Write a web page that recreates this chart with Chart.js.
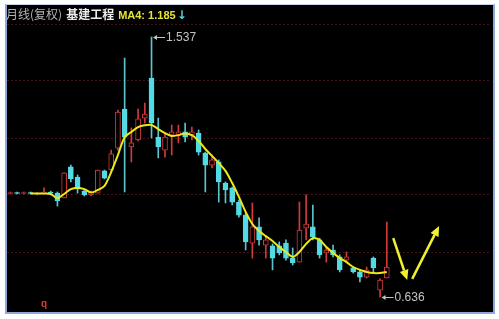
<!DOCTYPE html>
<html>
<head>
<meta charset="utf-8">
<script src="https://cdn.jsdelivr.net/npm/chart.js@4.4.1/dist/chart.umd.min.js"></script>
<style>
    html, body { margin: 0; padding: 0; background: #fff; width: 499px; height: 319px; overflow: hidden; }
    #frame { position: absolute; left: 5px; top: 4px; width: 486px; height: 307px; background: #000;
             border: 2px solid #8ea8da; border-top: 1px solid #c8d4ec; }
    #wrap { position: absolute; left: 0; top: 0; width: 499px; height: 319px; }
    #title { position: absolute; left: 6px; top: 6px; font: 12px "Noto Sans CJK SC", sans-serif;
             line-height: 16px; white-space: nowrap; }
    #title .period { color: #b4b4b4; }
    #title .name { color: #ececec; font-weight: bold; margin-left: 4px; }
    #title .ma { color: #e4e43c; font: bold 11px "Liberation Sans", Arial, sans-serif; margin-left: 4px; }
    #title .dir { color: #4fd8e4; font: bold 12px "DejaVu Sans", sans-serif; margin-left: 1px; }
    #corner { position: absolute; left: 41px; top: 298px; color: #e03838; font: bold 10px "Liberation Sans", Arial, sans-serif; }
</style>
</head>
<body>
<div id="frame"></div>
<div id="wrap"><canvas id="kline" width="499" height="319"></canvas></div>
<div id="title"><span class="period">月线(复权)</span><span class="name">基建工程</span><span class="ma">MA4: 1.185</span><span class="dir">↓</span></div>
<div id="corner">q</div>

<script>
// monthly slots (only the first 57 carry candles, the rest is free space for the arrows)
const months = Array.from({ length: 72 }, (_, i) => String(i + 1));

const opens = [
    0.995, 0.998, 0.995, 0.998, 0.993, 0.995, 1.000, 0.996, 0.979, 1.087,
    1.052, 1.003, 0.990, 0.996, 1.073, 1.076, 1.152, 1.287, 1.156, 1.180,
    1.256, 1.395, 1.190, 1.145, 1.197, 1.197, 1.208, 1.197, 1.204, 1.135,
    1.093, 1.104, 1.031, 1.014, 0.965, 0.920, 0.823, 0.879, 0.816, 0.813,
    0.813, 0.823, 0.771, 0.757, 0.875, 0.879, 0.834, 0.789, 0.799, 0.775,
    0.764, 0.737, 0.723, 0.705, 0.771, 0.660, 0.702
];
const closes = [
    0.998, 0.995, 0.998, 0.995, 0.996, 1.000, 0.996, 0.969, 1.066, 1.045,
    1.014, 0.990, 1.000, 1.076, 1.048, 1.132, 1.277, 1.190, 1.170, 1.253,
    1.270, 1.239, 1.156, 1.190, 1.208, 1.208, 1.190, 1.208, 1.138, 1.093,
    1.111, 1.035, 1.007, 0.965, 0.920, 0.827, 0.879, 0.834, 0.834, 0.771,
    0.789, 0.771, 0.754, 0.868, 0.889, 0.844, 0.782, 0.799, 0.782, 0.730,
    0.775, 0.723, 0.705, 0.730, 0.737, 0.695, 0.740
];
const highs = [
    1.000, 1.000, 1.000, 1.000, 0.998, 1.014, 1.003, 1.000, 1.066, 1.093,
    1.059, 1.007, 1.003, 1.076, 1.076, 1.145, 1.284, 1.464, 1.222, 1.287,
    1.308, 1.537, 1.256, 1.204, 1.232, 1.232, 1.239, 1.225, 1.215, 1.138,
    1.128, 1.111, 1.035, 1.017, 0.972, 0.927, 0.962, 0.910, 0.844, 0.820,
    0.827, 0.834, 0.806, 0.965, 0.990, 0.955, 0.840, 0.809, 0.816, 0.782,
    0.792, 0.740, 0.730, 0.740, 0.775, 0.699, 0.896
];
const lows = [
    0.993, 0.993, 0.993, 0.993, 0.990, 0.993, 0.990, 0.951, 0.979, 1.035,
    0.996, 0.986, 0.986, 0.996, 1.045, 1.069, 1.145, 1.000, 1.104, 1.177,
    1.239, 1.187, 1.118, 1.121, 1.128, 1.170, 1.173, 1.180, 1.128, 1.000,
    1.083, 0.965, 0.962, 0.955, 0.913, 0.799, 0.771, 0.816, 0.771, 0.730,
    0.782, 0.764, 0.747, 0.757, 0.834, 0.834, 0.771, 0.757, 0.775, 0.723,
    0.757, 0.719, 0.688, 0.702, 0.719, 0.636, 0.702
];
const ma4 = [
    null, null, null, 0.995, 0.995, 0.995, 0.993, 0.979, 0.993, 1.010,
    1.014, 1.010, 0.998, 1.007, 1.021, 1.069, 1.128, 1.190, 1.208, 1.225,
    1.231, 1.232, 1.218, 1.204, 1.194, 1.197, 1.203, 1.197, 1.177, 1.149,
    1.125, 1.100, 1.073, 1.031, 0.983, 0.931, 0.889, 0.865, 0.847, 0.830,
    0.809, 0.792, 0.775, 0.792, 0.820, 0.840, 0.834, 0.809, 0.789, 0.771,
    0.757, 0.740, 0.730, 0.723, 0.719, 0.719, 0.723
];

// horizontal price levels (dashed lines)
const gridLevels = [1.582, 1.385, 1.187, 0.990, 0.792];

// the two hand-drawn trend arrows, [month slot, price]
const arrowStarts = [[56.96, 0.840], [59.78, 0.699]];
const arrowEnds = [[59.04, 0.695], [63.78, 0.882]];

const RED = '#d23a3a';
const CYAN = '#52dbe4';
const CYAN_WICK = '#5cc4cc';

const isUp = i => closes[i] >= opens[i];

// high / low labels
const extremeMarks = {
    id: 'extremeMarks',
    afterDatasetsDraw(chart) {
        const { ctx, scales: { x, y } } = chart;
        const hi = highs.indexOf(Math.max(...highs));
        const lo = lows.indexOf(Math.min(...lows));
        [[hi, highs[hi]], [lo, lows[lo]]].forEach(([i, v]) => {
            const px = x.getPixelForValue(i) + 1.5;
            const py = Math.round(y.getPixelForValue(v)) + 0.5;
            ctx.save();
            ctx.strokeStyle = '#c4c4c4';
            ctx.fillStyle = '#c4c4c4';
            ctx.lineWidth = 1;
            ctx.beginPath();
            ctx.moveTo(px + 3, py);
            ctx.lineTo(px + 12, py);
            ctx.stroke();
            ctx.beginPath();
            ctx.moveTo(px, py);
            ctx.lineTo(px + 4, py - 2.5);
            ctx.lineTo(px + 4, py + 2.5);
            ctx.closePath();
            ctx.fill();
            ctx.font = '12px "Liberation Sans", Arial, sans-serif';
            ctx.textBaseline = 'middle';
            ctx.fillText(v.toFixed(3), px + 13, py);
            ctx.restore();
        });
    }
};

const trendArrowsPlugin = {
    id: 'trendArrows',
    afterDatasetsDraw(chart) {
        const { ctx, scales: { x, y } } = chart;
        ctx.save();
        ctx.strokeStyle = '#f0f030';
        ctx.fillStyle = '#f0f030';
        ctx.lineWidth = 2.5;
        arrowStarts.forEach((s, k) => {
            const e = arrowEnds[k];
            const x1 = x.getPixelForValue(s[0]), y1 = y.getPixelForValue(s[1]);
            const x2 = x.getPixelForValue(e[0]), y2 = y.getPixelForValue(e[1]);
            const ang = Math.atan2(y2 - y1, x2 - x1);
            const len = 10, half = 4.5;
            const bx = x2 - len * Math.cos(ang), by = y2 - len * Math.sin(ang);
            ctx.beginPath();
            ctx.moveTo(x1, y1);
            ctx.lineTo(bx, by);
            ctx.stroke();
            ctx.beginPath();
            ctx.moveTo(x2, y2);
            ctx.lineTo(bx + half * Math.sin(ang), by - half * Math.cos(ang));
            ctx.lineTo(bx - half * Math.sin(ang), by + half * Math.cos(ang));
            ctx.closePath();
            ctx.fill();
        });
        ctx.restore();
    }
};

const ctx = document.getElementById('kline').getContext('2d');
new Chart(ctx, {
    type: 'bar',
    data: {
        labels: months,
        datasets: [
            {
                type: 'line',
                label: 'MA4',
                data: ma4,
                borderColor: '#eaea1a',
                borderWidth: 2,
                pointRadius: 0,
                tension: 0.3,
                order: 0
            },
            {
                label: 'body',
                data: opens.map((o, i) => [o, closes[i]]),
                backgroundColor: opens.map((o, i) => isUp(i) ? '#000' : CYAN),
                borderColor: opens.map((o, i) => isUp(i) ? RED : CYAN),
                borderWidth: 1,
                borderSkipped: false,
                barThickness: 5,
                grouped: false,
                order: 1
            },
            {
                label: 'wick',
                data: lows.map((l, i) => [l, highs[i]]),
                backgroundColor: lows.map((l, i) => isUp(i) ? RED : CYAN_WICK),
                borderWidth: 0,
                barThickness: 1,
                grouped: false,
                order: 2
            }
        ]
    },
    options: {
        responsive: false,
        animation: false,
        layout: { padding: { left: 7, right: 8, top: 24, bottom: 10 } },
        plugins: { legend: { display: false }, tooltip: { enabled: false }, title: { display: false } },
        scales: {
            x: { display: false, offset: true },
            y: {
                min: 0.5945,
                max: 1.582,
                ticks: { display: false },
                afterBuildTicks: scale => { scale.ticks = gridLevels.map(v => ({ value: v })); },
                grid: { color: '#451414', lineWidth: 1, drawTicks: false },
                border: { display: false, dash: [2, 2] }
            }
        }
    },
    plugins: [extremeMarks, trendArrowsPlugin]
});
</script>
</body>
</html>
